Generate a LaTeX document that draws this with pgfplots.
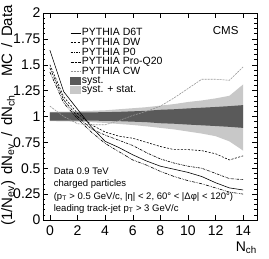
\documentclass[border=0pt]{standalone}
\usepackage{pgfplots}
\pgfplotsset{compat=1.18}
\usepackage{fontspec}
\setmainfont{Liberation Sans}
\definecolor{bandDark}{RGB}{90,90,90}
\definecolor{bandLight}{RGB}{200,200,200}
\definecolor{cwGray}{RGB}{150,150,150}
\begin{document}
\begin{tikzpicture}
\path[use as bounding box] (-43pt,-39pt) rectangle (226pt,220pt);
\begin{axis}[
  at={(0,0)}, anchor=south west,
  scale only axis, width=214pt, height=207pt,
  xmin=-0.5, xmax=15, ymin=0, ymax=2,
  xtick={0,2,4,6,8,10,12,14},
  ytick={0,0.25,0.5,0.75,1,1.25,1.5,1.75,2},
  minor y tick num=4,
  tick align=inside,
  major tick length=5pt, minor tick length=2.5pt,
  tick style={black, line width=0.4pt},
  axis line style={line width=0.5pt},
  tick label style={font=\fontsize{14}{14}\selectfont},
  /pgf/number format/assume math mode=true,
  xticklabel style={yshift=-2pt},
  yticklabel style={xshift=1pt},
  xlabel={N\textsubscript{ch}},
  every axis x label/.style={at={(rel axis cs:1,0)}, anchor=north east, inner sep=0pt, yshift=-22pt, font=\fontsize{14}{14}\selectfont},
  legend cell align=left,
  legend style={at={(axis cs:1.25,1.88)}, anchor=north west, draw=none, fill=none,
    font=\fontsize{10.5}{10.5}\selectfont, row sep=-1.2pt, nodes={inner sep=1pt}},
  legend image code/.code={\draw[#1] (0pt,0pt) -- (10pt,0pt);},
]
% bands
\addplot[fill=bandLight, draw=none, forget plot] coordinates {
(0,1.045)(1,1.047)(2,1.05)(3,1.055)(4,1.06)(5,1.07)(6,1.08)(7,1.09)(8,1.105)(9,1.12)(10,1.14)(11,1.155)(12,1.175)(13,1.20)(14,1.31)
(14,0.67)(13,0.76)(12,0.81)(11,0.835)(10,0.855)(9,0.875)(8,0.89)(7,0.905)(6,0.918)(5,0.928)(4,0.938)(3,0.945)(2,0.95)(1,0.953)(0,0.955)};
\addplot[fill=bandDark, draw=none, forget plot] coordinates {
(0,1.04)(1,1.04)(2,1.04)(3,1.04)(4,1.042)(5,1.045)(6,1.05)(7,1.055)(8,1.065)(9,1.07)(10,1.078)(11,1.085)(12,1.092)(13,1.1)(14,1.11)
(14,0.89)(13,0.9)(12,0.908)(11,0.915)(10,0.922)(9,0.93)(8,0.935)(7,0.945)(6,0.95)(5,0.955)(4,0.958)(3,0.96)(2,0.96)(1,0.96)(0,0.96)};
% D6T
\addplot[black, line width=0.6pt] coordinates {
(0,1.64)(1,1.24)(2,1.07)(3,0.90)(4,0.76)(5,0.70)(6,0.63)(7,0.57)(8,0.52)(9,0.49)(10,0.46)(11,0.42)(12,0.36)(13,0.31)(14,0.29)};
\addlegendentry{PYTHIA D6T}
% DW
\addplot[black, line width=0.6pt, dash pattern=on 2pt off 1.5pt] coordinates {
(0,1.50)(1,1.19)(2,1.03)(3,0.92)(4,0.85)(5,0.81)(6,0.79)(7,0.75)(8,0.71)(9,0.68)(10,0.68)(11,0.67)(12,0.64)(13,0.58)(14,0.62)};
\addlegendentry{PYTHIA DW}
% P0
\addplot[black, line width=0.6pt, dash pattern=on 2.5pt off 1pt on 0.6pt off 1pt] coordinates {
(0,1.47)(1,1.16)(2,1.00)(3,0.88)(4,0.82)(5,0.77)(6,0.72)(7,0.65)(8,0.59)(9,0.55)(10,0.52)(11,0.50)(12,0.45)(13,0.40)(14,0.39)};
\addlegendentry{PYTHIA P0}
% Pro-Q20
\addplot[black, line width=0.6pt, dash pattern=on 3pt off 1pt on 0.6pt off 1pt on 0.6pt off 1pt] coordinates {
(0,1.43)(1,1.13)(2,0.98)(3,0.85)(4,0.74)(5,0.66)(6,0.58)(7,0.53)(8,0.47)(9,0.42)(10,0.38)(11,0.35)(12,0.31)(13,0.27)(14,0.25)};
\addlegendentry{PYTHIA Pro-Q20}
% CW
\addplot[cwGray, line width=0.6pt, dash pattern=on 2pt off 1pt] coordinates {
(0,1.10)(1,1.00)(2,0.93)(3,0.92)(4,0.92)(5,0.96)(6,1.01)(7,1.05)(8,1.10)(9,1.18)(10,1.27)(11,1.36)(12,1.36)(13,1.35)(14,1.48)};
\addlegendentry{PYTHIA CW}
\addlegendimage{legend image code/.code={\fill[bandDark] (0pt,-3.5pt) rectangle (10pt,3.5pt);}}
\addlegendentry{syst.}
\addlegendimage{legend image code/.code={\fill[bandLight] (0pt,-3.5pt) rectangle (10pt,3.5pt);}}
\addlegendentry{syst. + stat.}
\node[anchor=north east, font=\fontsize{11.5}{11.5}\selectfont] at (rel axis cs:0.93,0.95) {CMS};
\node[anchor=north west, align=left, font=\fontsize{9.5}{12.5}\selectfont, inner sep=1pt] at (rel axis cs:0.045,0.26)
 {Data 0.9 TeV\\charged particles\\(p\textsubscript{T} > 0.5 GeV/c, |η| < 2, 60° < |Δφ| < 120°)\\leading track-jet p\textsubscript{T} > 3 GeV/c};
\end{axis}
\node[rotate=90, anchor=north east, inner sep=0pt, font=\fontsize{15}{15}\selectfont] at (-42pt,215pt)
 {(1/N\textsubscript{ev})\hspace{6pt}dN\textsubscript{ev}\hspace{3pt} / \hspace{3pt}dN\textsubscript{ch}\hspace{18pt}MC\hspace{2pt} / \hspace{2pt}Data};
\end{tikzpicture}
\end{document}
